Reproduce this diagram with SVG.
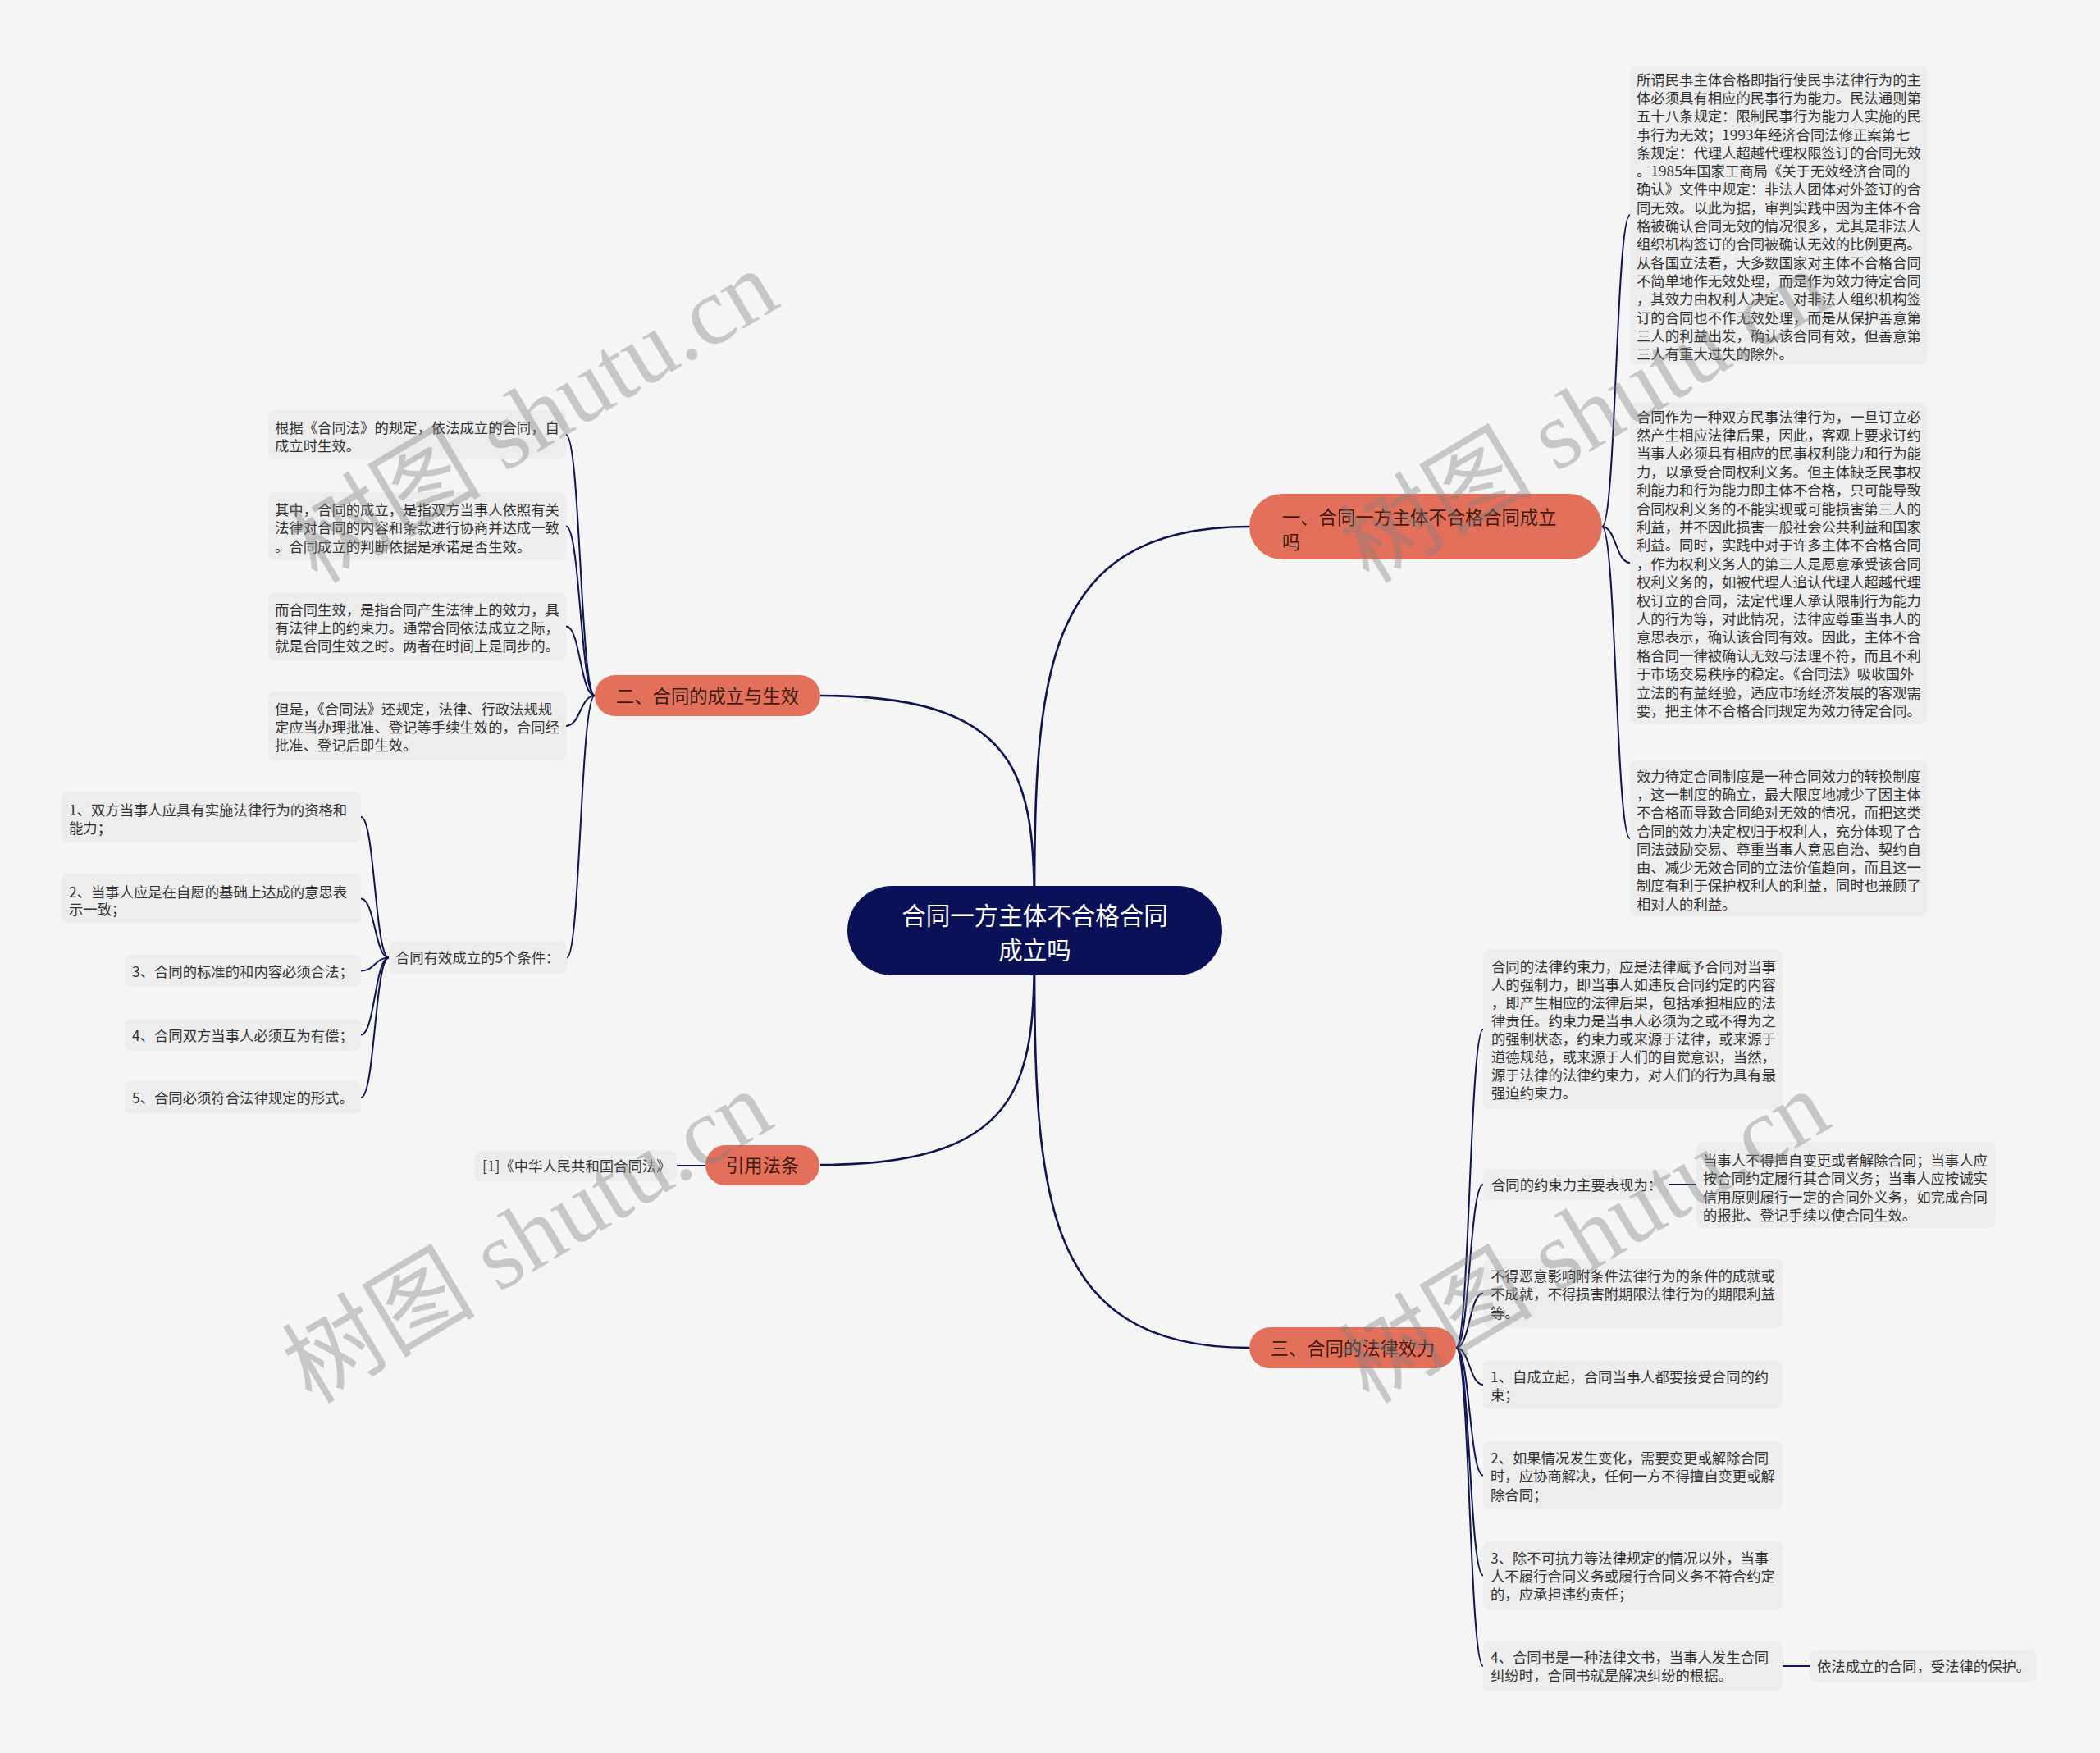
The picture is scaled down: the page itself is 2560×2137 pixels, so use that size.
<svg xmlns="http://www.w3.org/2000/svg" width="2560" height="2137" viewBox="0 0 2560 2137">
<defs>
<style>
.box{fill:#ededed}
.t{font-family:'Noto Sans CJK SC','Noto Sans',sans-serif;font-size:17.35px;fill:#333333}
.pill{fill:#e3705a}
.pt{font-family:'Noto Sans CJK SC','Noto Sans',sans-serif;font-size:22.3px;fill:#3d1a12}
.ct{font-family:'Noto Sans CJK SC','Noto Sans',sans-serif;font-size:29.5px;fill:#ffffff}
.link{fill:none;stroke:#0e1452;stroke-width:2}
.main{fill:none;stroke:#0e1452;stroke-width:2.6}
.wm{font-family:'Liberation Serif','Noto Sans CJK SC',serif;font-size:118px;fill:#7f7f7f;opacity:0.38}
</style>
</defs>
<rect width="2560" height="2137" fill="#f5f5f5"/>

<g id="connectors">
<path class="main" d="M1261 1135 C1261 839 1261 642 1523 642"/>
<path class="main" d="M1261 1135 C1261 963 1261 848 1000 848"/>
<path class="main" d="M1261 1135 C1261 1440 1261 1643 1523 1643"/>
<path class="main" d="M1261 1135 C1261 1306 1261 1420 1000 1420"/>
<path class="link" d="M1953 642 C1970 642 1970 262 1987 262"/>
<path class="link" d="M1953 642 C1970 642 1970 686 1987 686"/>
<path class="link" d="M1953 642 C1970 642 1970 1022 1987 1022"/>
<path class="link" d="M725 848 C707.5 848 707.5 530 690 530"/>
<path class="link" d="M725 848 C707.5 848 707.5 641.5 690 641.5"/>
<path class="link" d="M725 848 C707.5 848 707.5 763.5 690 763.5"/>
<path class="link" d="M725 848 C707.5 848 707.5 885 690 885"/>
<path class="link" d="M725 848 C707.5 848 707.5 1167.5 691 1167.5"/>
<path class="link" d="M474 1167.5 C457 1167.5 457 996 440 996"/>
<path class="link" d="M474 1167.5 C457 1167.5 457 1095.5 440 1095.5"/>
<path class="link" d="M474 1167.5 C457 1167.5 457 1183.5 440 1183.5"/>
<path class="link" d="M474 1167.5 C457 1167.5 457 1261.5 440 1261.5"/>
<path class="link" d="M474 1167.5 C457 1167.5 457 1338 440 1338"/>
<path class="link" d="M1775 1643 C1791.5 1643 1791.5 1255 1808 1255"/>
<path class="link" d="M1775 1643 C1791.5 1643 1791.5 1444 1808 1444"/>
<path class="link" d="M1775 1643 C1791.5 1643 1791.5 1576.5 1808 1576.5"/>
<path class="link" d="M1775 1643 C1791.5 1643 1791.5 1688 1808 1688"/>
<path class="link" d="M1775 1643 C1791.5 1643 1791.5 1798.5 1808 1798.5"/>
<path class="link" d="M1775 1643 C1791.5 1643 1791.5 1920.5 1808 1920.5"/>
<path class="link" d="M1775 1643 C1791.5 1643 1791.5 2031 1808 2031"/>
<path class="link" d="M860 1421 L825 1421"/>
<path class="link" d="M2034 1444 L2068 1444"/>
<path class="link" d="M2173 2031 L2206 2031"/>
</g>

<g id="center">
<rect x="1033" y="1080" width="457" height="109" rx="54.5" fill="#0b1157"/>
<text class="ct" text-anchor="middle"><tspan x="1261.5" y="1127">合同一方主体不合格合同</tspan><tspan x="1261.5" y="1168.5">成立吗</tspan></text>
</g>

<g id="b1">
<rect class="pill" x="1523" y="602" width="430" height="80" rx="40"/>
<text class="pt"><tspan x="1563" y="638.5">一、合同一方主体不合格合同成立</tspan><tspan x="1563" y="668.5">吗</tspan></text>
</g>

<g id="b2">
<rect class="pill" x="725" y="823" width="275" height="50" rx="25"/>
<text class="pt" x="862.5" y="856.5" text-anchor="middle">二、合同的成立与生效</text>
</g>

<g id="b3">
<rect class="pill" x="1523" y="1618" width="252" height="50" rx="25"/>
<text class="pt" x="1649" y="1651.5" text-anchor="middle">三、合同的法律效力</text>
</g>

<g id="b4">
<rect class="pill" x="860" y="1396" width="139" height="49" rx="24.5"/>
<text class="pt" x="929.5" y="1429" text-anchor="middle">引用法条</text>
</g>

<g id="r1">
<rect class="box" x="1987" y="80" width="363" height="364" rx="8"/>
<text class="t"><tspan x="1995" y="103.6">所谓民事主体合格即指行使民事法律行为的主</tspan><tspan x="1995" dy="22.3">体必须具有相应的民事行为能力。民法通则第</tspan><tspan x="1995" dy="22.3">五十八条规定：限制民事行为能力人实施的民</tspan><tspan x="1995" dy="22.3">事行为无效；1993年经济合同法修正案第七</tspan><tspan x="1995" dy="22.3">条规定：代理人超越代理权限签订的合同无效</tspan><tspan x="1995" dy="22.3">。1985年国家工商局《关于无效经济合同的</tspan><tspan x="1995" dy="22.3">确认》文件中规定：非法人团体对外签订的合</tspan><tspan x="1995" dy="22.3">同无效。以此为据，审判实践中因为主体不合</tspan><tspan x="1995" dy="22.3">格被确认合同无效的情况很多，尤其是非法人</tspan><tspan x="1995" dy="22.3">组织机构签订的合同被确认无效的比例更高。</tspan><tspan x="1995" dy="22.3">从各国立法看，大多数国家对主体不合格合同</tspan><tspan x="1995" dy="22.3">不简单地作无效处理，而是作为效力待定合同</tspan><tspan x="1995" dy="22.3">，其效力由权利人决定。对非法人组织机构签</tspan><tspan x="1995" dy="22.3">订的合同也不作无效处理，而是从保护善意第</tspan><tspan x="1995" dy="22.3">三人的利益出发，确认该合同有效，但善意第</tspan><tspan x="1995" dy="22.3">三人有重大过失的除外。</tspan></text>
</g>

<g id="r2">
<rect class="box" x="1987" y="490" width="363" height="392" rx="8"/>
<text class="t"><tspan x="1995" y="514.6">合同作为一种双方民事法律行为，一旦订立必</tspan><tspan x="1995" dy="22.4">然产生相应法律后果，因此，客观上要求订约</tspan><tspan x="1995" dy="22.4">当事人必须具有相应的民事权利能力和行为能</tspan><tspan x="1995" dy="22.4">力，以承受合同权利义务。但主体缺乏民事权</tspan><tspan x="1995" dy="22.4">利能力和行为能力即主体不合格，只可能导致</tspan><tspan x="1995" dy="22.4">合同权利义务的不能实现或可能损害第三人的</tspan><tspan x="1995" dy="22.4">利益，并不因此损害一般社会公共利益和国家</tspan><tspan x="1995" dy="22.4">利益。同时，实践中对于许多主体不合格合同</tspan><tspan x="1995" dy="22.4">，作为权利义务人的第三人是愿意承受该合同</tspan><tspan x="1995" dy="22.4">权利义务的，如被代理人追认代理人超越代理</tspan><tspan x="1995" dy="22.4">权订立的合同，法定代理人承认限制行为能力</tspan><tspan x="1995" dy="22.4">人的行为等，对此情况，法律应尊重当事人的</tspan><tspan x="1995" dy="22.4">意思表示，确认该合同有效。因此，主体不合</tspan><tspan x="1995" dy="22.4">格合同一律被确认无效与法理不符，而且不利</tspan><tspan x="1995" dy="22.4">于市场交易秩序的稳定。《合同法》吸收国外</tspan><tspan x="1995" dy="22.4">立法的有益经验，适应市场经济发展的客观需</tspan><tspan x="1995" dy="22.4">要，把主体不合格合同规定为效力待定合同。</tspan></text>
</g>

<g id="r3">
<rect class="box" x="1987" y="927" width="363" height="191" rx="8"/>
<text class="t"><tspan x="1995" y="952.6">效力待定合同制度是一种合同效力的转换制度</tspan><tspan x="1995" dy="22.3">，这一制度的确立，最大限度地减少了因主体</tspan><tspan x="1995" dy="22.3">不合格而导致合同绝对无效的情况，而把这类</tspan><tspan x="1995" dy="22.3">合同的效力决定权归于权利人，充分体现了合</tspan><tspan x="1995" dy="22.3">同法鼓励交易、尊重当事人意思自治、契约自</tspan><tspan x="1995" dy="22.3">由、减少无效合同的立法价值趋向，而且这一</tspan><tspan x="1995" dy="22.3">制度有利于保护权利人的利益，同时也兼顾了</tspan><tspan x="1995" dy="22.3">相对人的利益。</tspan></text>
</g>

<g id="r4">
<rect class="box" x="1808" y="1158" width="365" height="194" rx="8"/>
<text class="t"><tspan x="1818" y="1184.6">合同的法律约束力，应是法律赋予合同对当事</tspan><tspan x="1818" dy="22">人的强制力，即当事人如违反合同约定的内容</tspan><tspan x="1818" dy="22">，即产生相应的法律后果，包括承担相应的法</tspan><tspan x="1818" dy="22">律责任。约束力是当事人必须为之或不得为之</tspan><tspan x="1818" dy="22">的强制状态，约束力或来源于法律，或来源于</tspan><tspan x="1818" dy="22">道德规范，或来源于人们的自觉意识，当然，</tspan><tspan x="1818" dy="22">源于法律的法律约束力，对人们的行为具有最</tspan><tspan x="1818" dy="22">强迫约束力。</tspan></text>
</g>

<g id="r5">
<rect class="box" x="1808" y="1425" width="226" height="38" rx="8"/>
<text class="t" x="1818" y="1450.6">合同的约束力主要表现为：</text>
</g>

<g id="r5c">
<rect class="box" x="2068" y="1392" width="365" height="105" rx="8"/>
<text class="t"><tspan x="2076" y="1420.6">当事人不得擅自变更或者解除合同；当事人应</tspan><tspan x="2076" dy="22.5">按合同约定履行其合同义务；当事人应按诚实</tspan><tspan x="2076" dy="22.5">信用原则履行一定的合同外义务，如完成合同</tspan><tspan x="2076" dy="22.5">的报批、登记手续以使合同生效。</tspan></text>
</g>

<g id="r6">
<rect class="box" x="1808" y="1535" width="365" height="83" rx="8"/>
<text class="t"><tspan x="1817" y="1561.6">不得恶意影响附条件法律行为的条件的成就或</tspan><tspan x="1817" dy="22.5">不成就，不得损害附期限法律行为的期限利益</tspan><tspan x="1817" dy="22.5">等。</tspan></text>
</g>

<g id="r7">
<rect class="box" x="1808" y="1658" width="365" height="60" rx="8"/>
<text class="t"><tspan x="1817" y="1684.6">1、自成立起，合同当事人都要接受合同的约</tspan><tspan x="1817" dy="22">束；</tspan></text>
</g>

<g id="r8">
<rect class="box" x="1808" y="1757" width="365" height="83" rx="8"/>
<text class="t"><tspan x="1817" y="1783.6">2、如果情况发生变化，需要变更或解除合同</tspan><tspan x="1817" dy="22.5">时，应协商解决，任何一方不得擅自变更或解</tspan><tspan x="1817" dy="22.5">除合同；</tspan></text>
</g>

<g id="r9">
<rect class="box" x="1808" y="1879" width="365" height="83" rx="8"/>
<text class="t"><tspan x="1817" y="1905.6">3、除不可抗力等法律规定的情况以外，当事</tspan><tspan x="1817" dy="22.3">人不履行合同义务或履行合同义务不符合约定</tspan><tspan x="1817" dy="22.3">的，应承担违约责任；</tspan></text>
</g>

<g id="r10">
<rect class="box" x="1808" y="2000" width="365" height="62" rx="8"/>
<text class="t"><tspan x="1817" y="2026.6">4、合同书是一种法律文书，当事人发生合同</tspan><tspan x="1817" dy="22.5">纠纷时，合同书就是解决纠纷的根据。</tspan></text>
</g>

<g id="r10c">
<rect class="box" x="2206" y="2012" width="277" height="38" rx="8"/>
<text class="t" x="2215" y="2037.6">依法成立的合同，受法律的保护。</text>
</g>

<g id="l1">
<rect class="box" x="327" y="500" width="363" height="60" rx="8"/>
<text class="t"><tspan x="335" y="527.6">根据《合同法》的规定，依法成立的合同，自</tspan><tspan x="335" dy="22">成立时生效。</tspan></text>
</g>

<g id="l2">
<rect class="box" x="327" y="600" width="363" height="83" rx="8"/>
<text class="t"><tspan x="335" y="627.6">其中，合同的成立，是指双方当事人依照有关</tspan><tspan x="335" dy="22.5">法律对合同的内容和条款进行协商并达成一致</tspan><tspan x="335" dy="22.5">。合同成立的判断依据是承诺是否生效。</tspan></text>
</g>

<g id="l3">
<rect class="box" x="327" y="722" width="363" height="83" rx="8"/>
<text class="t"><tspan x="335" y="749.6">而合同生效，是指合同产生法律上的效力，具</tspan><tspan x="335" dy="22">有法律上的约束力。通常合同依法成立之际，</tspan><tspan x="335" dy="22">就是合同生效之时。两者在时间上是同步的。</tspan></text>
</g>

<g id="l4">
<rect class="box" x="327" y="843" width="363" height="84" rx="8"/>
<text class="t"><tspan x="335" y="870.6">但是，《合同法》还规定，法律、行政法规规</tspan><tspan x="335" dy="22">定应当办理批准、登记等手续生效的，合同经</tspan><tspan x="335" dy="22">批准、登记后即生效。</tspan></text>
</g>

<g id="l5">
<rect class="box" x="474" y="1148" width="217" height="39" rx="8"/>
<text class="t" x="482" y="1173.6">合同有效成立的5个条件：</text>
</g>

<g id="c1">
<rect class="box" x="74" y="965" width="366" height="62" rx="8"/>
<text class="t"><tspan x="84" y="993.6">1、双方当事人应具有实施法律行为的资格和</tspan><tspan x="84" dy="22">能力；</tspan></text>
</g>

<g id="c2">
<rect class="box" x="74" y="1065" width="366" height="61" rx="8"/>
<text class="t"><tspan x="84" y="1093.6">2、当事人应是在自愿的基础上达成的意思表</tspan><tspan x="84" dy="21.5">示一致；</tspan></text>
</g>

<g id="c3">
<rect class="box" x="152" y="1164" width="288" height="39" rx="8"/>
<text class="t" x="161" y="1190.6">3、合同的标准的和内容必须合法；</text>
</g>

<g id="c4">
<rect class="box" x="152" y="1242" width="288" height="39" rx="8"/>
<text class="t" x="161" y="1268.6">4、合同双方当事人必须互为有偿；</text>
</g>

<g id="c5">
<rect class="box" x="152" y="1318" width="288" height="40" rx="8"/>
<text class="t" x="161" y="1344.6">5、合同必须符合法律规定的形式。</text>
</g>

<g id="ref">
<rect class="box" x="578" y="1402" width="247" height="38" rx="8"/>
<text class="t" x="588" y="1427.6">[1]《中华人民共和国合同法》</text>
</g>

<g id="watermarks">
<text class="wm" text-anchor="middle" transform="translate(650,508) rotate(-31)" y="40">树图 shutu.cn</text>
<text class="wm" text-anchor="middle" transform="translate(643,1508) rotate(-31)" y="40">树图 shutu.cn</text>
<text class="wm" text-anchor="middle" transform="translate(1932,508) rotate(-31)" y="40">树图 shutu.cn</text>
<text class="wm" text-anchor="middle" transform="translate(1932,1508) rotate(-31)" y="40">树图 shutu.cn</text>
</g>
</svg>
